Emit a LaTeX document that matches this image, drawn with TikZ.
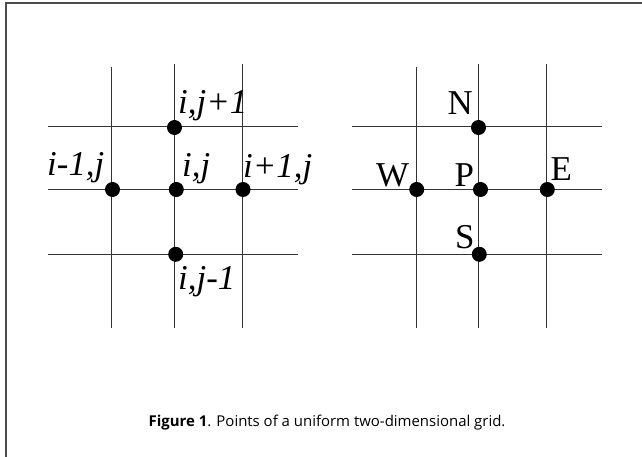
\documentclass[tikz,border=0pt]{standalone}
\usepackage{fontspec}
\setmainfont{Liberation Serif}
\newfontfamily\capfont{Open Sans}
\begin{document}
\begin{tikzpicture}[x=1bp,y=-1bp,
  gridline/.style={draw=black!80, line width=1bp},
  dot/.style={circle, fill=black, inner sep=0pt, minimum size=15bp},
  lbl/.style={anchor=base west, inner sep=0pt, font=\fontsize{35}{35}\selectfont\itshape},
  ulbl/.style={anchor=base west, inner sep=0pt, font=\fontsize{35}{35}\selectfont},
  frame/.style={draw=black!70, line width=2bp}]
\useasboundingbox (0,0) rectangle (642,457);
\draw[frame] (5.5,460) -- (5.5,3.5) -- (645,3.5);
% left grid
\foreach \x/\t in {111.5/67,174.5/64,242.5/64} \draw[gridline] (\x,\t) -- (\x,328);
\foreach \y in {126.5,189.5,254.5} \draw[gridline] (48,\y) -- (298,\y);
% right grid
\foreach \x/\t in {416.5/67,478.5/64,546.5/64} \draw[gridline] (\x,\t) -- (\x,328);
\foreach \y in {126.5,189.5,254.5} \draw[gridline] (352.3,\y) -- (601.7,\y);
% left dots
\node[dot] (ijp) at (174.5,127.5) {};
\node[dot] (imj) at (112.5,189.5) {};
\node[dot] (ij)  at (176.3,189.5) {};
\node[dot] (ipj) at (243,189.5) {};
\node[dot] (ijm) at (175.7,254.3) {};
% right dots
\node[dot] (N) at (478.5,127.5) {};
\node[dot] (W) at (416.7,189.5) {};
\node[dot] (P) at (480.5,189.5) {};
\node[dot] (E) at (547.3,189.5) {};
\node[dot] (S) at (479.3,254.3) {};
% left labels
\node[lbl] (Lijp) at (178,114) {i,j+1};
\node[lbl] (Limj) at (47,176) {i-1,j};
\node[lbl] (Lij)  at (182,177) {i,j};
\node[lbl] (Lipj) at (243,178) {i+1,j};
\node[lbl] (Lijm) at (178,290) {i,j-1};
% right labels
\node[ulbl] (LN) at (447.5,115) {N};
\node[ulbl] (LW) at (376,186.7) {W};
\node[ulbl] (LP) at (454.5,186.5) {P};
\node[ulbl] (LE) at (550.5,180.7) {E};
\node[ulbl] (LS) at (455,248.3) {S};
% caption
\node[anchor=base, inner sep=0pt, font=\capfont\fontsize{15}{15}\selectfont] (cap) at (327,426.7)
  {\textbf{Figure 1}. Points of a uniform two-dimensional grid.};
\end{tikzpicture}
\end{document}
